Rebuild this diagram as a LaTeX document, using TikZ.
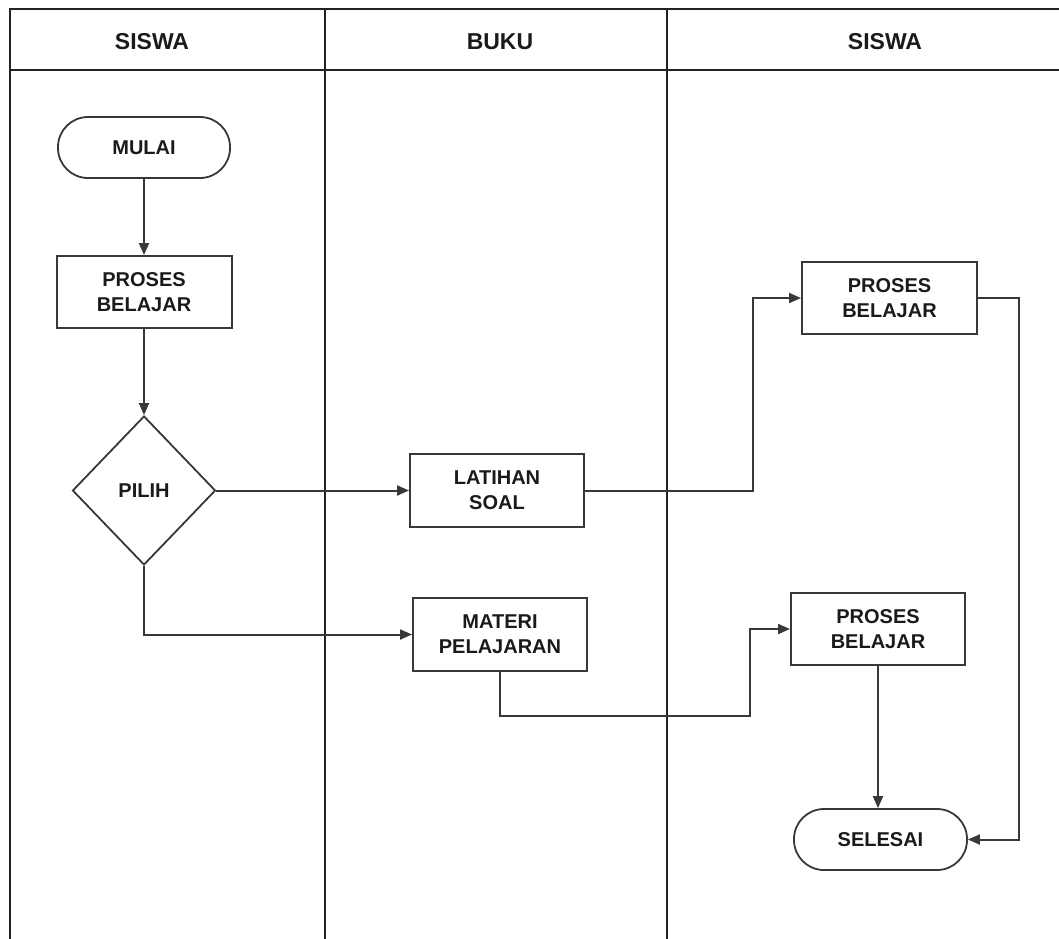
\documentclass[tikz,border=0pt]{standalone}
\usepackage{fontspec}
\setmainfont{Liberation Sans}
\usetikzlibrary{shapes.geometric,arrows.meta}
\definecolor{lineC}{HTML}{222222}
\definecolor{connC}{HTML}{383838}
\definecolor{txtC}{HTML}{1A1A1A}
\tikzset{
  lane/.style={draw=lineC, line width=2.6pt},
  boxtext/.style={font=\bfseries\fontsize{20}{25}\selectfont, text=txtC, align=center},
  procbox/.style={boxtext, draw=connC, line width=2pt, rectangle, minimum width=175pt, minimum height=72pt, inner sep=0pt},
  termbox/.style={boxtext, draw=connC, line width=1.8pt, rectangle, rounded corners=30pt, minimum width=172pt, minimum height=61pt, inner sep=0pt},
  decbox/.style={boxtext, draw=connC, line width=1.8pt, diamond, aspect=0.96, minimum width=143pt, minimum height=149pt, inner sep=0pt},
  headtext/.style={font=\bfseries\fontsize{23}{28}\selectfont, text=txtC},
  conn/.style={draw=connC, line width=2pt},
  arr/.style={conn, -{Triangle[length=12pt,width=10pt]}}
}
\begin{document}
\begin{tikzpicture}[x=1pt,y=-1pt]
\useasboundingbox (0,0) rectangle (1059,938);
% swimlane frame
\draw[lane] (10,945) -- (10,9) -- (1065,9);
\draw[lane] (10,70) -- (1065,70);
\draw[lane] (325,9) -- (325,945);
\draw[lane] (667,9) -- (667,945);
% headers
\node[headtext] (h1) at (152,42) {SISWA};
\node[headtext] (h2) at (500,42) {BUKU};
\node[headtext] (h3) at (885,42) {SISWA};
% nodes
\node[termbox] (mulai) at (144,147.5) {MULAI};
\node[procbox] (proses1) at (144,292) {PROSES\\BELAJAR};
\node[decbox] (pilih) at (144,490.5) {PILIH};
\node[procbox, minimum width=174pt, minimum height=73pt] (latihan) at (497,490.5) {LATIHAN\\SOAL};
\node[procbox, minimum width=174pt, minimum height=73pt] (materi) at (500,634.5) {MATERI\\PELAJARAN};
\node[procbox] (proses2) at (889.5,298) {PROSES\\BELAJAR};
\node[procbox, minimum width=174pt] (proses3) at (878,629) {PROSES\\BELAJAR};
\node[termbox, minimum width=173pt] (selesai) at (880.5,839.5) {SELESAI};
% bend points
\coordinate (c1) at (753,298);
\coordinate (c2) at (750,716);
\coordinate (c3) at (1019,500);
% connectors
\draw[arr] (mulai.south) -- (proses1.north);
\draw[arr] (proses1.south) -- (pilih.north);
\draw[arr] (pilih.east) -- (latihan.west);
\draw[arr] (pilih.south) |- (materi.west);
\draw[arr] (latihan.east) -| (c1) -- (proses2.west);
\draw[arr] (materi.south) |- (c2) |- (proses3.west);
\draw[arr] (proses3.south) -- (selesai.north -| proses3.south);
\draw[arr] (proses2.east) -| (c3) |- (selesai.east);
\end{tikzpicture}
\end{document}
